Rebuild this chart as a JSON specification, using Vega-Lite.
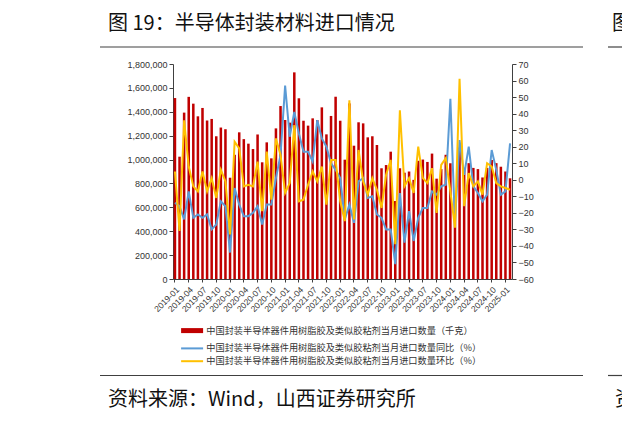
{
  "$schema": "https://vega.github.io/schema/vega-lite/v6.json",
  "width": 339,
  "height": 215,
  "autosize": {"type": "none"},
  "padding": {"left": 173, "top": 64, "right": 110, "bottom": 145},
  "background": "white",
  "config": {
    "view": {"stroke": null},
    "font": "Liberation Sans",
    "axis": {"labelFont": "Liberation Sans", "labelFontSize": 9, "labelColor": "#333333", "domainColor": "#404040", "tickColor": "#404040", "tickSize": 4, "grid": false, "labelOverlap": false}
  },
  "data": {"values": [
    {"m":"2019-01","q":1515000,"yoy":-14,"mom":5},
    {"m":"2019-02","q":1024000,"yoy":-16,"mom":-31},
    {"m":"2019-03","q":1393000,"yoy":-24,"mom":36},
    {"m":"2019-04","q":1525000,"yoy":-7,"mom":8},
    {"m":"2019-05","q":1468000,"yoy":-23,"mom":-4},
    {"m":"2019-06","q":1362000,"yoy":-21,"mom":-7},
    {"m":"2019-07","q":1432000,"yoy":-23,"mom":5},
    {"m":"2019-08","q":1327000,"yoy":-21,"mom":-7},
    {"m":"2019-09","q":1340000,"yoy":-30,"mom":1},
    {"m":"2019-10","q":1195000,"yoy":-27,"mom":-11},
    {"m":"2019-11","q":1268000,"yoy":-13,"mom":6},
    {"m":"2019-12","q":1254000,"yoy":-16,"mom":-1},
    {"m":"2020-01","q":848000,"yoy":-44,"mom":-33},
    {"m":"2020-02","q":1040000,"yoy":-5,"mom":23},
    {"m":"2020-03","q":1228000,"yoy":-15,"mom":19},
    {"m":"2020-04","q":1171000,"yoy":-22,"mom":-4},
    {"m":"2020-05","q":1133000,"yoy":-22,"mom":-3},
    {"m":"2020-06","q":1088000,"yoy":-20,"mom":-4},
    {"m":"2020-07","q":1210000,"yoy":-16,"mom":11},
    {"m":"2020-08","q":977000,"yoy":-27,"mom":-19},
    {"m":"2020-09","q":1144000,"yoy":-15,"mom":17},
    {"m":"2020-10","q":1010000,"yoy":-15,"mom":-12},
    {"m":"2020-11","q":1261000,"yoy":1,"mom":25},
    {"m":"2020-12","q":1448000,"yoy":15,"mom":15},
    {"m":"2021-01","q":1331000,"yoy":57,"mom":-8},
    {"m":"2021-02","q":1309000,"yoy":26,"mom":-2},
    {"m":"2021-03","q":1730000,"yoy":41,"mom":33},
    {"m":"2021-04","q":1513000,"yoy":28,"mom":-13},
    {"m":"2021-05","q":1325000,"yoy":17,"mom":-12},
    {"m":"2021-06","q":1284000,"yoy":17,"mom":-3},
    {"m":"2021-07","q":1345000,"yoy":11,"mom":5},
    {"m":"2021-08","q":1331000,"yoy":36,"mom":-1},
    {"m":"2021-09","q":1437000,"yoy":25,"mom":8},
    {"m":"2021-10","q":1211000,"yoy":20,"mom":-15},
    {"m":"2021-11","q":1365000,"yoy":10,"mom":12},
    {"m":"2021-12","q":1526000,"yoy":6,"mom":12},
    {"m":"2022-01","q":1325000,"yoy":1,"mom":-13},
    {"m":"2022-02","q":999000,"yoy":-24,"mom":-25},
    {"m":"2022-03","q":1470000,"yoy":-15,"mom":48},
    {"m":"2022-04","q":1116000,"yoy":-26,"mom":-24},
    {"m":"2022-05","q":1312000,"yoy":-1,"mom":18},
    {"m":"2022-06","q":1303000,"yoy":1,"mom":-1},
    {"m":"2022-07","q":1186000,"yoy":-11,"mom":-9},
    {"m":"2022-08","q":1195000,"yoy":-10,"mom":1},
    {"m":"2022-09","q":1122000,"yoy":-21,"mom":-6},
    {"m":"2022-10","q":927000,"yoy":-23,"mom":-17},
    {"m":"2022-11","q":954000,"yoy":-30,"mom":3},
    {"m":"2022-12","q":1066000,"yoy":-30,"mom":12},
    {"m":"2023-01","q":653000,"yoy":-51,"mom":-39},
    {"m":"2023-02","q":927000,"yoy":-8,"mom":42},
    {"m":"2023-03","q":890000,"yoy":-38,"mom":-4},
    {"m":"2023-04","q":900000,"yoy":-19,"mom":1},
    {"m":"2023-05","q":830000,"yoy":-37,"mom":-8},
    {"m":"2023-06","q":990000,"yoy":-23,"mom":20},
    {"m":"2023-07","q":1000000,"yoy":-17,"mom":1},
    {"m":"2023-08","q":980000,"yoy":-17,"mom":-2},
    {"m":"2023-09","q":1050000,"yoy":-7,"mom":7},
    {"m":"2023-10","q":840000,"yoy":-9,"mom":-20},
    {"m":"2023-11","q":920000,"yoy":-4,"mom":9},
    {"m":"2023-12","q":1040000,"yoy":-3,"mom":13},
    {"m":"2024-01","q":969000,"yoy":49,"mom":-7},
    {"m":"2024-02","q":690000,"yoy":-26,"mom":-29},
    {"m":"2024-03","q":1100000,"yoy":24,"mom":61},
    {"m":"2024-04","q":930000,"yoy":3,"mom":-16},
    {"m":"2024-05","q":970000,"yoy":20,"mom":4},
    {"m":"2024-06","q":930000,"yoy":-4,"mom":-4},
    {"m":"2024-07","q":920000,"yoy":-8,"mom":-1},
    {"m":"2024-08","q":850000,"yoy":-13,"mom":-9},
    {"m":"2024-09","q":930000,"yoy":-9,"mom":10},
    {"m":"2024-10","q":996000,"yoy":18,"mom":8},
    {"m":"2024-11","q":970000,"yoy":6,"mom":-2},
    {"m":"2024-12","q":940000,"yoy":-9,"mom":-4},
    {"m":"2025-01","q":900000,"yoy":-7,"mom":-5},
    {"m":"2025-02","q":843000,"yoy":22,"mom":-6}
  ]},
  "layer": [
    {
      "mark": {"type": "bar", "color": "#C00000"},
      "encoding": {
        "x": {"field": "m", "type": "ordinal", "sort": null,
          "scale": {"paddingInner": 0.45, "paddingOuter": 0.15},
          "axis": {"title": null, "labelAngle": -45, "labelFontSize": 8.5, "tickSize": 3, "labelPadding": 3,
            "values": ["2019-01","2019-04","2019-07","2019-10","2020-01","2020-04","2020-07","2020-10","2021-01","2021-04","2021-07","2021-10","2022-01","2022-04","2022-07","2022-10","2023-01","2023-04","2023-07","2023-10","2024-01","2024-04","2024-07","2024-10","2025-01"]}},
        "y": {"field": "q", "type": "quantitative",
          "scale": {"domain": [0, 1800000], "nice": false},
          "axis": {"title": null, "orient": "left", "format": ",d", "values": [0,200000,400000,600000,800000,1000000,1200000,1400000,1600000,1800000], "labelPadding": 2}},
        "color": {"datum": "中国封装半导体器件用树脂胶及类似胶粘剂当月进口数量（千克）", "type": "nominal",
          "scale": {"domain": ["中国封装半导体器件用树脂胶及类似胶粘剂当月进口数量（千克）", "中国封装半导体器件用树脂胶及类似胶粘剂当月进口数量同比（%）", "中国封装半导体器件用树脂胶及类似胶粘剂当月进口数量环比（%）"], "range": ["#C00000", "#5B9BD5", "#FFC000"]},
          "legend": {"orient": "none", "legendX": 9, "legendY": 262, "title": null, "direction": "vertical",
            "labelFont": "Noto Sans CJK SC", "labelFontSize": 9.2, "labelColor": "#333333", "labelLimit": 400,
            "symbolType": "M-1,0H3", "symbolSize": 121, "labelOffset": 15, "rowPadding": 2.8,
            "encode": {"symbols": {"update": {
              "strokeWidth": {"signal": "datum.value === '中国封装半导体器件用树脂胶及类似胶粘剂当月进口数量（千克）' ? 5 : 2"},
              "stroke": {"scale": "color", "field": "value"},
              "fill": {"value": "transparent"},
              "opacity": {"value": 1}
            }}}}}
      }
    },
    {
      "layer": [
        {
          "mark": {"type": "line", "strokeWidth": 2},
          "encoding": {
            "x": {"field": "m", "type": "ordinal", "sort": null},
            "y": {"field": "yoy", "type": "quantitative",
              "scale": {"domain": [-60, 70], "nice": false},
              "axis": {"title": null, "orient": "right", "values": [-60,-50,-40,-30,-20,-10,0,10,20,30,40,50,60,70], "tickCount": 14, "labelPadding": 2, "labelOverlap": false}},
            "color": {"datum": "中国封装半导体器件用树脂胶及类似胶粘剂当月进口数量同比（%）", "type": "nominal"}
          }
        },
        {
          "mark": {"type": "line", "strokeWidth": 2},
          "encoding": {
            "x": {"field": "m", "type": "ordinal", "sort": null},
            "y": {"field": "mom", "type": "quantitative",
              "scale": {"domain": [-60, 70], "nice": false},
              "axis": {"title": null, "orient": "right", "values": [-60,-50,-40,-30,-20,-10,0,10,20,30,40,50,60,70], "tickCount": 14, "labelPadding": 2, "labelOverlap": false}},
            "color": {"datum": "中国封装半导体器件用树脂胶及类似胶粘剂当月进口数量环比（%）", "type": "nominal"}
          }
        }
      ]
    },
    {
      "data": {"values": [{}]},
      "layer": [
        {"mark": {"type": "rule", "color": "#404040", "strokeWidth": 1.2}, "encoding": {"x": {"value": -73}, "x2": {"value": 410}, "y": {"value": -17}}},
        {"mark": {"type": "rule", "color": "#404040", "strokeWidth": 1.2}, "encoding": {"x": {"value": 435}, "x2": {"value": 460}, "y": {"value": -17}}},
        {"mark": {"type": "rule", "color": "#404040", "strokeWidth": 1.2}, "encoding": {"x": {"value": -73}, "x2": {"value": 410}, "y": {"value": 311.5}}},
        {"mark": {"type": "rule", "color": "#404040", "strokeWidth": 1.2}, "encoding": {"x": {"value": 435}, "x2": {"value": 460}, "y": {"value": 311.5}}},
        {"mark": {"type": "text", "font": "Noto Sans CJK SC", "fontSize": 20, "align": "left", "baseline": "middle", "color": "#111111"}, "encoding": {"x": {"value": -65}, "y": {"value": -40}, "text": {"value": "图 19：半导体封装材料进口情况"}}},
        {"mark": {"type": "text", "font": "Noto Sans CJK SC", "fontSize": 20, "align": "left", "baseline": "middle", "color": "#111111"}, "encoding": {"x": {"value": 439}, "y": {"value": -40}, "text": {"value": "图"}}},
        {"mark": {"type": "text", "font": "Noto Sans CJK SC", "fontSize": 20, "align": "left", "baseline": "middle", "color": "#111111"}, "encoding": {"x": {"value": -65}, "y": {"value": 336}, "text": {"value": "资料来源：Wind，山西证券研究所"}}},
        {"mark": {"type": "text", "font": "Noto Sans CJK SC", "fontSize": 20, "align": "left", "baseline": "middle", "color": "#111111"}, "encoding": {"x": {"value": 442}, "y": {"value": 336}, "text": {"value": "资"}}}
      ]
    }
  ],
  "resolve": {"scale": {"y": "independent"}}
}
